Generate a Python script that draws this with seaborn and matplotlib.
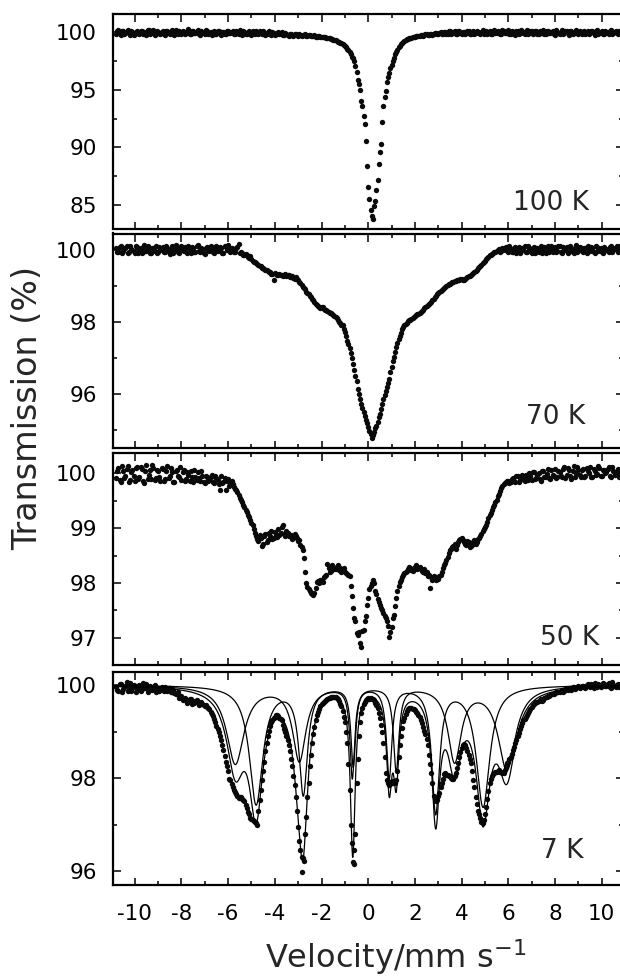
import numpy as np
import pandas as pd
import matplotlib
matplotlib.use("Agg")
import matplotlib.pyplot as plt
import seaborn as sns
from matplotlib.ticker import MultipleLocator, FormatStrFormatter

# Velocity channels (mm/s): main channels and the interleaved half-step channels
VELOCITY = [
    -10.8, -10.7, -10.6, -10.5, -10.4, -10.3, -10.2, -10.1, -10.0, -9.9,
    -9.8, -9.7, -9.6, -9.5, -9.4, -9.3, -9.2, -9.1, -9.0, -8.9,
    -8.8, -8.7, -8.6, -8.5, -8.4, -8.3, -8.2, -8.1, -8.0, -7.9,
    -7.8, -7.7, -7.6, -7.5, -7.4, -7.3, -7.2, -7.1, -7.0, -6.9,
    -6.8, -6.7, -6.6, -6.5, -6.4, -6.3, -6.2, -6.1, -6.0, -5.9,
    -5.8, -5.7, -5.6, -5.5, -5.4, -5.3, -5.2, -5.1, -5.0, -4.9,
    -4.8, -4.7, -4.6, -4.5, -4.4, -4.3, -4.2, -4.1, -4.0, -3.9,
    -3.8, -3.7, -3.6, -3.5, -3.4, -3.3, -3.2, -3.1, -3.0, -2.9,
    -2.8, -2.7, -2.6, -2.5, -2.4, -2.3, -2.2, -2.1, -2.0, -1.9,
    -1.8, -1.7, -1.6, -1.5, -1.4, -1.3, -1.2, -1.1, -1.0, -0.9,
    -0.8, -0.7, -0.6, -0.5, -0.4, -0.3, -0.2, -0.1, 0.0, 0.1,
    0.2, 0.3, 0.4, 0.5, 0.6, 0.7, 0.8, 0.9, 1.0, 1.1,
    1.2, 1.3, 1.4, 1.5, 1.6, 1.7, 1.8, 1.9, 2.0, 2.1,
    2.2, 2.3, 2.4, 2.5, 2.6, 2.7, 2.8, 2.9, 3.0, 3.1,
    3.2, 3.3, 3.4, 3.5, 3.6, 3.7, 3.8, 3.9, 4.0, 4.1,
    4.2, 4.3, 4.4, 4.5, 4.6, 4.7, 4.8, 4.9, 5.0, 5.1,
    5.2, 5.3, 5.4, 5.5, 5.6, 5.7, 5.8, 5.9, 6.0, 6.1,
    6.2, 6.3, 6.4, 6.5, 6.6, 6.7, 6.8, 6.9, 7.0, 7.1,
    7.2, 7.3, 7.4, 7.5, 7.6, 7.7, 7.8, 7.9, 8.0, 8.1,
    8.2, 8.3, 8.4, 8.5, 8.6, 8.7, 8.8, 8.9, 9.0, 9.1,
    9.2, 9.3, 9.4, 9.5, 9.6, 9.7, 9.8, 9.9, 10.0, 10.1,
    10.2, 10.3, 10.4, 10.5, 10.6, 10.7, 10.8,
]
VELOCITY_MID = [
    -10.75, -10.65, -10.55, -10.45, -10.35, -10.25, -10.15, -10.05, -9.95, -9.85,
    -9.75, -9.65, -9.55, -9.45, -9.35, -9.25, -9.15, -9.05, -8.95, -8.85,
    -8.75, -8.65, -8.55, -8.45, -8.35, -8.25, -8.15, -8.05, -7.95, -7.85,
    -7.75, -7.65, -7.55, -7.45, -7.35, -7.25, -7.15, -7.05, -6.95, -6.85,
    -6.75, -6.65, -6.55, -6.45, -6.35, -6.25, -6.15, -6.05, -5.95, -5.85,
    -5.75, -5.65, -5.55, -5.45, -5.35, -5.25, -5.15, -5.05, -4.95, -4.85,
    -4.75, -4.65, -4.55, -4.45, -4.35, -4.25, -4.15, -4.05, -3.95, -3.85,
    -3.75, -3.65, -3.55, -3.45, -3.35, -3.25, -3.15, -3.05, -2.95, -2.85,
    -2.75, -2.65, -2.55, -2.45, -2.35, -2.25, -2.15, -2.05, -1.95, -1.85,
    -1.75, -1.65, -1.55, -1.45, -1.35, -1.25, -1.15, -1.05, -0.95, -0.85,
    -0.75, -0.65, -0.55, -0.45, -0.35, -0.25, -0.15, -0.05, 0.05, 0.15,
    0.25, 0.35, 0.45, 0.55, 0.65, 0.75, 0.85, 0.95, 1.05, 1.15,
    1.25, 1.35, 1.45, 1.55, 1.65, 1.75, 1.85, 1.95, 2.05, 2.15,
    2.25, 2.35, 2.45, 2.55, 2.65, 2.75, 2.85, 2.95, 3.05, 3.15,
    3.25, 3.35, 3.45, 3.55, 3.65, 3.75, 3.85, 3.95, 4.05, 4.15,
    4.25, 4.35, 4.45, 4.55, 4.65, 4.75, 4.85, 4.95, 5.05, 5.15,
    5.25, 5.35, 5.45, 5.55, 5.65, 5.75, 5.85, 5.95, 6.05, 6.15,
    6.25, 6.35, 6.45, 6.55, 6.65, 6.75, 6.85, 6.95, 7.05, 7.15,
    7.25, 7.35, 7.45, 7.55, 7.65, 7.75, 7.85, 7.95, 8.05, 8.15,
    8.25, 8.35, 8.45, 8.55, 8.65, 8.75, 8.85, 8.95, 9.05, 9.15,
    9.25, 9.35, 9.45, 9.55, 9.65, 9.75, 9.85, 9.95, 10.05, 10.15,
    10.25, 10.35, 10.45, 10.55, 10.65, 10.75,
]

# Transmission (%) at 100 K
T_100K = [
    99.85, 100.2, 99.8, 100.1, 99.92, 100.22, 99.78, 100.05, 99.9, 100.15,
    99.82, 100.12, 100.0, 99.78, 100.18, 99.95, 100.24, 99.85, 100.03, 99.9,
    100.14, 99.8, 100.08, 99.9, 100.2, 99.76, 100.0, 100.16, 99.88, 100.06,
    99.92, 100.26, 99.82, 100.1, 99.95, 100.18, 99.79, 100.05, 99.87, 100.13,
    99.98, 99.8, 100.12, 99.9, 100.16, 99.78, 100.02, 99.85, 100.09, 99.93,
    100.14, 99.83, 99.97, 100.18, 99.8, 100.06, 99.88, 100.11, 99.77, 99.96,
    100.08, 99.85, 99.93, 100.15, 99.79, 99.98, 99.84, 100.05, 99.75, 99.9,
    99.82, 100.0, 99.74, 99.88, 99.72, 99.86, 99.7, 99.82, 99.66, 99.78,
    99.75, 99.82, 99.7, 99.78, 99.65, 99.74, 99.62, 99.7, 99.6, 99.64,
    99.55, 99.5, 99.44, 99.38, 99.3, 99.2, 99.1, 98.98, 98.8, 98.6,
    98.3, 97.9, 97.55, 96.6, 95.5, 94.0, 92.7, 90.6, 86.6, 84.6,
    83.8, 85.3, 87.2, 89.6, 92.2, 94.4, 95.7, 96.5, 97.2, 97.8,
    98.3, 98.7, 99.0, 99.2, 99.35, 99.45, 99.5, 99.58, 99.62, 99.68,
    99.72, 99.8, 99.74, 99.86, 99.78, 99.9, 99.82, 99.95, 99.86, 100.0,
    99.88, 100.05, 99.9, 100.08, 99.92, 100.1, 99.9, 100.14, 99.86, 100.04,
    99.94, 100.12, 99.84, 100.16, 99.96, 100.06, 99.88, 100.2, 99.98, 99.85,
    100.1, 99.9, 100.22, 99.93, 100.04, 99.82, 100.13, 99.95, 100.18, 99.87,
    100.06, 99.8, 100.15, 99.97, 100.1, 99.85, 100.25, 99.91, 100.08, 99.95,
    100.15, 99.83, 100.03, 100.2, 99.88, 100.08, 99.93, 100.13, 99.8, 100.05,
    99.9, 100.18, 99.97, 100.09, 99.78, 100.14, 99.95, 100.22, 99.86, 100.04,
    100.0, 99.88, 100.16, 99.92, 100.08, 99.8, 100.2, 99.97, 100.1, 99.9,
    100.05, 99.85, 100.18, 99.95, 100.08, 99.88, 100.12,
]
T_100K_MID = [
    100.08, 99.9, 100.16, 99.84, 100.04, 99.95, 100.12, 99.8, 100.06, 99.92,
    100.1, 99.86, 99.96, 100.2, 99.88, 100.07, 99.8, 100.14, 99.93, 100.02,
    99.86, 100.12, 99.94, 100.05, 99.82, 100.18, 99.9, 99.98, 100.1, 99.84,
    100.06, 99.88, 100.16, 99.93, 100.02, 99.85, 100.12, 99.96, 100.2, 99.9,
    100.05, 99.92, 99.86, 100.14, 99.95, 100.03, 99.83, 100.1, 99.97, 100.06,
    99.9, 100.12, 99.85, 99.98, 100.1, 99.84, 100.02, 99.92, 100.14, 99.87,
    99.95, 100.1, 99.82, 100.02, 99.9, 100.08, 99.8, 99.96, 99.88, 100.0,
    99.86, 99.78, 99.92, 99.8, 99.9, 99.76, 99.88, 99.74, 99.84, 99.72,
    99.8, 99.7, 99.76, 99.66, 99.72, 99.64, 99.68, 99.58, 99.62, 99.56,
    99.52, 99.48, 99.4, 99.34, 99.25, 99.15, 99.05, 98.9, 98.7, 98.45,
    98.1, 97.75, 97.1, 95.9, 95.0, 93.6, 92.0, 88.4, 85.5, 84.0,
    84.9, 86.3, 88.6, 90.3, 93.6, 94.9, 96.1, 96.9, 97.5, 98.1,
    98.5, 98.85, 99.1, 99.28, 99.4, 99.48, 99.55, 99.6, 99.66, 99.7,
    99.76, 99.7, 99.82, 99.75, 99.88, 99.8, 99.92, 99.84, 99.96, 99.88,
    100.02, 99.86, 100.1, 99.9, 100.04, 99.85, 100.12, 99.93, 100.06, 99.88,
    100.1, 99.9, 100.03, 99.82, 100.14, 99.95, 100.06, 99.86, 100.16, 99.92,
    99.88, 100.14, 99.97, 100.08, 99.84, 100.18, 99.92, 100.04, 99.86, 100.1,
    99.92, 100.08, 99.86, 100.2, 99.94, 100.02, 99.82, 100.12, 99.9, 100.16,
    99.9, 100.1, 99.96, 99.85, 100.14, 99.92, 100.05, 99.86, 100.18, 99.95,
    100.06, 99.86, 100.12, 99.92, 100.16, 99.88, 100.04, 99.93, 100.1, 99.84,
    100.1, 99.94, 99.84, 100.12, 99.96, 100.14, 99.9, 100.06, 99.85, 100.15,
    99.92, 100.1, 99.88, 100.04, 99.96, 100.14,
]

# Transmission (%) at 70 K
T_70K = [
    100.06, 99.93, 100.1, 99.97, 100.04, 99.9, 100.09, 100.0, 99.92, 100.07,
    100.02, 99.91, 100.12, 99.96, 100.06, 99.9, 100.04, 100.11, 99.94, 100.0,
    100.08, 99.93, 100.03, 99.89, 100.1, 99.98, 100.06, 99.92, 100.11, 99.96,
    100.04, 100.1, 99.92, 100.06, 99.95, 100.12, 99.94, 100.02, 99.89, 100.08,
    99.96, 100.06, 99.9, 100.1, 99.98, 100.04, 99.92, 100.07, 100.13, 99.95,
    100.03, 99.95, 100.08, 99.9, 99.9, 99.84, 99.86, 99.78, 99.74, 99.66,
    99.64, 99.58, 99.54, 99.48, 99.44, 99.41, 99.37, 99.34, 99.36, 99.3,
    99.33, 99.29, 99.31, 99.27, 99.3, 99.26, 99.22, 99.24, 99.15, 99.07,
    98.97, 98.9, 98.8, 98.73, 98.64, 98.55, 98.47, 98.42, 98.4, 98.36,
    98.33, 98.28, 98.25, 98.2, 98.13, 98.06, 97.96, 97.9, 97.72, 97.48,
    97.28, 97.0, 96.65, 96.35, 96.0, 95.72, 95.5, 95.28, 95.08, 94.9,
    94.85, 95.05, 95.23, 95.45, 95.72, 95.97, 96.2, 96.42, 96.75, 97.02,
    97.3, 97.52, 97.7, 97.86, 97.95, 98.02, 98.05, 98.1, 98.16, 98.21,
    98.25, 98.3, 98.38, 98.43, 98.5, 98.56, 98.63, 98.72, 98.8, 98.85,
    98.9, 98.96, 99.02, 99.06, 99.1, 99.12, 99.15, 99.17, 99.2, 99.16,
    99.22, 99.26, 99.3, 99.35, 99.42, 99.48, 99.55, 99.62, 99.7, 99.78,
    99.84, 99.88, 99.93, 99.97, 100.02, 99.96, 100.05, 100.08, 99.95, 100.03,
    99.94, 100.07, 100.0, 99.91, 100.05, 100.1, 99.95, 100.04, 99.9, 100.08,
    100.02, 99.93, 100.09, 100.0, 99.92, 100.11, 100.03, 99.95, 100.07, 99.97,
    100.1, 99.92, 100.04, 100.08, 99.95, 100.05, 99.9, 100.12, 100.0, 100.06,
    99.94, 100.05, 100.1, 99.96, 100.04, 99.91, 100.08, 100.02, 99.95, 100.07,
    100.03, 99.93, 100.09, 100.0, 100.05, 99.94, 100.1,
]
T_70K_MID = [
    99.95, 100.08, 99.9, 100.04, 100.11, 99.93, 100.02, 99.96, 100.09, 99.91,
    100.05, 99.94, 100.03, 100.1, 99.92, 100.06, 99.97, 99.9, 100.08, 100.02,
    99.94, 100.09, 99.96, 100.05, 99.91, 100.12, 99.95, 100.04, 99.98, 100.07,
    99.92, 100.02, 100.08, 99.95, 100.1, 99.97, 100.05, 99.9, 100.06, 99.98,
    100.09, 99.93, 100.04, 99.96, 100.07, 99.91, 100.1, 99.98, 100.04, 100.06,
    99.93, 100.06, 100.17, 99.95, 99.86, 99.88, 99.8, 99.82, 99.7, 99.67,
    99.6, 99.55, 99.5, 99.46, 99.43, 99.38, 99.34, 99.15, 99.33, 99.31,
    99.3, 99.26, 99.32, 99.29, 99.24, 99.28, 99.2, 99.18, 99.1, 99.02,
    98.93, 98.82, 98.77, 98.68, 98.6, 98.5, 98.44, 98.38, 98.41, 98.32,
    98.3, 98.24, 98.22, 98.16, 98.1, 98.0, 97.92, 97.8, 97.6, 97.38,
    97.14, 96.82, 96.5, 96.15, 95.85, 95.6, 95.38, 95.18, 94.97, 94.78,
    94.95, 95.12, 95.35, 95.58, 95.85, 96.08, 96.3, 96.6, 96.9, 97.15,
    97.42, 97.62, 97.8, 97.9, 97.98, 98.06, 98.08, 98.12, 98.2, 98.22,
    98.28, 98.34, 98.4, 98.48, 98.52, 98.6, 98.68, 98.76, 98.82, 98.88,
    98.93, 98.99, 99.04, 99.08, 99.11, 99.14, 99.16, 99.18, 99.15, 99.2,
    99.24, 99.28, 99.32, 99.38, 99.45, 99.51, 99.58, 99.66, 99.74, 99.81,
    99.86, 99.9, 99.95, 100.0, 99.93, 100.06, 99.98, 100.02, 100.09, 99.94,
    100.04, 99.92, 100.08, 99.97, 100.02, 99.93, 100.1, 99.96, 100.05, 99.92,
    100.06, 99.98, 99.92, 100.07, 100.04, 99.95, 100.09, 100.0, 99.93, 100.1,
    99.95, 100.07, 100.0, 99.92, 100.1, 99.97, 100.04, 99.94, 100.08, 99.96,
    100.06, 99.92, 100.02, 100.08, 99.95, 100.11, 99.97, 100.04, 99.9, 100.02,
    99.96, 100.08, 99.94, 100.04, 100.1, 99.98,
]

# Transmission (%) at 50 K
T_50K = [
    99.92, 100.1, 99.84, 100.04, 99.95, 100.14, 99.88, 100.06, 99.86, 100.12,
    99.94, 100.08, 99.83, 100.15, 99.97, 99.9, 100.1, 99.92, 100.05, 99.87,
    100.09, 99.9, 100.13, 99.95, 100.03, 99.85, 100.06, 99.93, 99.89, 100.07,
    99.9, 99.97, 100.05, 99.84, 99.94, 100.03, 99.87, 99.96, 99.82, 99.93,
    99.88, 99.97, 99.83, 99.92, 99.8, 99.95, 99.85, 99.7, 99.9, 99.82,
    99.8, 99.72, 99.66, 99.55, 99.48, 99.38, 99.3, 99.21, 99.1, 98.98,
    98.85, 98.76, 98.82, 98.72, 98.9, 98.78, 98.86, 98.8, 98.93, 98.84,
    98.88, 99.02, 98.9, 98.95, 98.85, 98.88, 98.82, 98.86, 98.76, 98.7,
    98.6, 98.2, 97.92, 97.85, 97.8, 97.82, 98.02, 98.0, 98.05, 98.1,
    98.15, 98.28, 98.22, 98.3, 98.25, 98.33, 98.27, 98.22, 98.2, 98.16,
    98.12, 97.76, 97.35, 97.08, 97.11, 96.82, 97.14, 97.4, 97.72, 97.95,
    98.05, 97.86, 97.7, 97.6, 97.5, 97.4, 97.3, 97.02, 97.2, 97.42,
    97.72, 97.95, 98.05, 98.15, 98.2, 98.25, 98.28, 98.22, 98.3, 98.26,
    98.3, 98.22, 98.25, 98.2, 98.15, 98.1, 98.12, 98.05, 98.08, 98.15,
    98.28, 98.36, 98.48, 98.6, 98.65, 98.72, 98.7, 98.78, 98.82, 98.75,
    98.7, 98.74, 98.68, 98.75, 98.72, 98.8, 98.85, 98.95, 99.02, 99.12,
    99.24, 99.33, 99.42, 99.52, 99.62, 99.74, 99.8, 99.84, 99.86, 99.84,
    99.92, 99.84, 99.96, 99.88, 99.98, 99.86, 99.93, 100.0, 99.89, 100.03,
    99.92, 100.0, 99.87, 100.05, 99.94, 100.08, 99.9, 99.98, 100.09, 99.93,
    100.03, 99.93, 100.11, 99.97, 100.06, 99.9, 100.13, 100.0, 100.07, 99.94,
    100.08, 99.96, 100.04, 100.12, 99.93, 100.05, 99.99, 100.1, 99.95, 100.06,
    100.02, 100.11, 99.94, 100.05, 99.99, 100.08, 99.97,
]
T_50K_MID = [
    100.05, 99.88, 100.13, 99.92, 100.08, 99.85, 100.02, 99.95, 100.1, 99.9,
    100.12, 99.86, 100.04, 99.9, 100.07, 100.15, 99.88, 100.06, 99.93, 100.1,
    99.87, 100.04, 99.92, 100.1, 99.84, 100.05, 99.95, 100.12, 100.02, 99.86,
    100.03, 99.86, 99.94, 100.06, 99.88, 99.92, 100.04, 99.84, 99.95, 99.87,
    99.93, 99.85, 99.96, 99.88, 99.7, 99.83, 99.92, 99.86, 99.78, 99.87,
    99.76, 99.7, 99.6, 99.52, 99.43, 99.34, 99.25, 99.15, 99.05, 98.92,
    98.8, 98.88, 98.68, 98.85, 98.75, 98.92, 98.95, 98.82, 98.88, 98.98,
    98.92, 99.05, 98.86, 98.92, 98.85, 98.8, 98.9, 98.82, 98.78, 98.66,
    98.45, 98.0, 97.88, 97.82, 97.78, 97.9, 98.04, 98.06, 98.02, 98.12,
    98.34, 98.2, 98.32, 98.26, 98.3, 98.24, 98.2, 98.28, 98.18, 98.14,
    97.95, 97.55, 97.3, 97.05, 96.9, 97.12, 97.3, 97.6, 97.88, 98.0,
    98.0, 97.8, 97.65, 97.55, 97.45, 97.35, 97.22, 97.1, 97.35, 97.58,
    97.86, 98.02, 98.1, 98.18, 98.22, 98.3, 98.24, 98.27, 98.32, 98.28,
    98.25, 98.2, 98.18, 98.12, 97.9, 98.06, 98.1, 98.08, 98.12, 98.2,
    98.32, 98.42, 98.55, 98.62, 98.68, 98.62, 98.75, 98.8, 98.78, 98.72,
    98.76, 98.65, 98.7, 98.78, 98.74, 98.82, 98.9, 98.98, 99.06, 99.18,
    99.28, 99.38, 99.48, 99.58, 99.68, 99.78, 99.82, 99.86, 99.83, 99.9,
    99.86, 99.95, 99.84, 99.93, 99.9, 99.97, 99.88, 99.95, 100.02, 99.9,
    99.98, 99.9, 100.04, 99.93, 99.99, 99.92, 100.06, 99.96, 99.91, 100.05,
    99.95, 100.08, 99.92, 100.1, 99.96, 100.05, 99.94, 100.12, 99.98, 100.06,
    99.94, 100.1, 100.0, 99.93, 100.08, 99.97, 100.13, 99.95, 100.06, 100.0,
    100.08, 99.95, 100.12, 99.97, 100.04, 99.93,
]

# Transmission (%) at 7 K
T_7K = [
    99.95, 99.88, 100.03, 99.92, 99.98, 99.87, 100.05, 99.93, 99.97, 99.9,
    99.99, 99.91, 99.95, 100.02, 99.89, 99.96, 99.93, 99.86, 99.94, 99.9,
    99.92, 99.95, 99.88, 99.93, 99.86, 99.83, 99.8, 99.72, 99.76, 99.7,
    99.68, 99.65, 99.7, 99.62, 99.66, 99.63, 99.6, 99.6, 99.55, 99.52,
    99.48, 99.38, 99.28, 99.12, 98.98, 98.82, 98.6, 98.35, 98.15, 97.95,
    97.8, 97.7, 97.62, 97.6, 97.55, 97.5, 97.35, 97.22, 97.12, 97.08,
    97.03, 97.3, 97.74, 98.15, 98.58, 98.9, 99.12, 99.25, 99.32, 99.35,
    99.3, 99.24, 99.06, 98.9, 98.72, 98.42, 98.05, 97.6, 96.95, 96.45,
    96.28, 96.8, 97.6, 98.25, 98.75, 99.1, 99.35, 99.48, 99.6, 99.64,
    99.68, 99.72, 99.74, 99.75, 99.74, 99.7, 99.6, 99.45, 99.2, 98.75,
    97.75, 96.6, 96.45, 97.9, 98.9, 99.4, 99.6, 99.68, 99.72, 99.72,
    99.7, 99.62, 99.5, 99.3, 99.0, 98.45, 97.95, 97.85, 97.93, 97.92,
    97.95, 98.45, 98.9, 99.22, 99.38, 99.48, 99.5, 99.49, 99.46, 99.4,
    99.32, 99.18, 99.02, 98.85, 98.5, 98.1, 97.62, 97.5, 97.62, 97.8,
    97.98, 98.1, 98.06, 98.04, 97.98, 98.05, 98.22, 98.45, 98.65, 98.74,
    98.64, 98.5, 98.32, 97.95, 97.6, 97.3, 97.15, 97.04, 97.22, 97.55,
    97.9, 98.05, 98.1, 98.14, 98.17, 98.12, 98.1, 98.25, 98.35, 98.46,
    98.6, 98.75, 98.9, 99.05, 99.18, 99.28, 99.36, 99.45, 99.52, 99.6,
    99.63, 99.66, 99.7, 99.68, 99.74, 99.76, 99.78, 99.8, 99.82, 99.85,
    99.86, 99.9, 99.88, 99.92, 99.94, 99.9, 99.96, 99.93, 99.97, 99.95,
    99.98, 99.93, 100.02, 99.96, 99.99, 100.04, 99.95, 100.0, 99.97, 100.03,
    99.98, 100.05, 99.94, 100.01, 99.96, 100.03, 99.99,
]
T_7K_MID = [
    99.9, 100.02, 99.86, 99.96, 100.06, 99.91, 99.88, 100.0, 99.85, 99.96,
    99.87, 100.04, 99.93, 99.86, 99.98, 99.9, 100.01, 99.92, 99.87, 99.95,
    99.88, 99.9, 99.94, 99.84, 99.9, 99.8, 99.84, 99.76, 99.68, 99.72,
    99.62, 99.7, 99.6, 99.62, 99.68, 99.58, 99.64, 99.56, 99.58, 99.5,
    99.43, 99.33, 99.2, 99.05, 98.9, 98.72, 98.48, 98.25, 97.98, 97.88,
    97.74, 97.66, 97.58, 97.6, 97.52, 97.42, 97.28, 97.15, 97.1, 97.06,
    97.0, 97.52, 97.95, 98.35, 98.75, 99.02, 99.2, 99.3, 99.36, 99.33,
    99.28, 99.15, 99.0, 98.82, 98.58, 98.25, 97.85, 97.3, 96.65, 96.3,
    96.22, 97.17, 97.89, 98.5, 98.95, 99.25, 99.42, 99.55, 99.62, 99.66,
    99.71, 99.73, 99.75, 99.75, 99.72, 99.66, 99.55, 99.32, 99.0, 98.3,
    97.0, 96.2, 96.8, 98.4, 99.2, 99.5, 99.64, 99.7, 99.71, 99.7,
    99.68, 99.56, 99.4, 99.15, 98.75, 98.1, 97.9, 97.88, 97.9, 97.89,
    98.15, 98.7, 99.08, 99.3, 99.44, 99.5, 99.5, 99.48, 99.43, 99.36,
    99.25, 99.1, 98.95, 98.7, 98.3, 97.9, 97.55, 97.52, 97.67, 97.89,
    98.08, 98.06, 98.05, 98.0, 97.99, 98.1, 98.32, 98.55, 98.7, 98.72,
    98.58, 98.4, 98.15, 97.8, 97.45, 97.22, 97.05, 97.1, 97.38, 97.72,
    97.98, 98.08, 98.12, 98.16, 98.14, 98.1, 98.18, 98.32, 98.4, 98.52,
    98.67, 98.82, 98.96, 99.12, 99.24, 99.32, 99.4, 99.48, 99.56, 99.61,
    99.64, 99.68, 99.66, 99.72, 99.75, 99.77, 99.8, 99.81, 99.84, 99.86,
    99.88, 99.86, 99.92, 99.9, 99.93, 99.95, 99.91, 99.96, 99.94, 99.98,
    99.95, 100.0, 99.97, 100.03, 99.94, 99.98, 100.02, 99.96, 100.05, 99.97,
    100.02, 99.95, 100.06, 99.97, 100.01, 99.96,
]
V_7K_EXTRA = [-2.82, -0.62]
T_7K_EXTRA = [95.99, 96.15]

# Fitted sextet sub-spectra at 7 K: line positions (mm/s), depths (%), half-widths (mm/s)
SEXTET_A_POS = [-5.69, -2.95, -0.68, 1.20, 3.70, 5.94]
SEXTET_A_DEPTH = [1.68, 1.6, 1.95, 1.8, 1.6, 1.8]
SEXTET_A_HWHM = [0.45, 0.34, 0.12, 0.14, 0.34, 0.45]
SEXTET_B_POS = [-4.80, -2.78, -0.64, 0.90, 2.89, 4.92]
SEXTET_B_DEPTH = [2.55, 2.3, 1.7, 1.95, 2.7, 2.6]
SEXTET_B_HWHM = [0.35, 0.22, 0.12, 0.14, 0.2, 0.35]

PANEL_LABELS = ["100 K", "70 K", "50 K", "7 K"]


def sextet_absorption(v, pos, depth, hwhm):
    v = np.asarray(v)[:, None]
    pos, depth, hwhm = (np.asarray(a) for a in (pos, depth, hwhm))
    return (depth * hwhm ** 2 / ((v - pos) ** 2 + hwhm ** 2)).sum(axis=1)


sns.set_theme(style="ticks")
plt.rcParams.update({
    "font.family": ["DejaVu Sans"],
    "axes.unicode_minus": False,
    "axes.linewidth": 1.6,
    "axes.edgecolor": "black",
    "xtick.color": "black",
    "ytick.color": "black",
})

FIG_W, FIG_H = 620, 976
fig = plt.figure(figsize=(FIG_W / 100, FIG_H / 100), dpi=100)
fig.patch.set_facecolor("white")

X_LEFT, X_WIDTH = 113, 510.4
XLIM = (-10.93, 10.93)

panels = [
    dict(t=T_100K, tm=T_100K_MID, ve=[], te=[], span=(14, 228.5),
         ylim=(82.95, 101.6), major=5, minor=2.5, lab=(0.933, 0.086)),
    dict(t=T_70K, tm=T_70K_MID, ve=[], te=[], span=(233.5, 448),
         ylim=(94.5, 100.45), major=2, minor=1, lab=(0.925, 0.112)),
    dict(t=T_50K, tm=T_50K_MID, ve=[], te=[], span=(452.7, 665),
         ylim=(96.5, 100.38), major=1, minor=0.5, lab=(0.953, 0.094)),
    dict(t=T_7K, tm=T_7K_MID, ve=V_7K_EXTRA, te=T_7K_EXTRA, span=(672, 885),
         ylim=(95.7, 100.28), major=2, minor=1, lab=(0.922, 0.127)),
]

for i, p in enumerate(panels):
    top, bottom = p["span"]
    ax = fig.add_axes([X_LEFT / FIG_W, 1 - bottom / FIG_H,
                       X_WIDTH / FIG_W, (bottom - top) / FIG_H])
    df = pd.DataFrame({"velocity": VELOCITY + VELOCITY_MID + p["ve"],
                       "transmission": p["t"] + p["tm"] + p["te"]})
    sns.scatterplot(data=df, x="velocity", y="transmission", ax=ax,
                    s=15, color="#0a0a0a", linewidth=0, legend=False, zorder=3)

    if i == 3:
        v_fit = np.linspace(XLIM[0], XLIM[1], 2000)
        a = sextet_absorption(v_fit, SEXTET_A_POS, SEXTET_A_DEPTH, SEXTET_A_HWHM)
        b = sextet_absorption(v_fit, SEXTET_B_POS, SEXTET_B_DEPTH, SEXTET_B_HWHM)
        for curve in (100 - a, 100 - b, 100 - a - b):
            sns.lineplot(x=v_fit, y=curve, ax=ax, color="black", linewidth=0.9,
                         estimator=None, sort=False, zorder=4)

    ax.set_xlim(*XLIM)
    ax.set_ylim(*p["ylim"])
    ax.xaxis.set_major_locator(MultipleLocator(2))
    ax.xaxis.set_minor_locator(MultipleLocator(1))
    ax.yaxis.set_major_locator(MultipleLocator(p["major"]))
    ax.yaxis.set_minor_locator(MultipleLocator(p["minor"]))
    ax.yaxis.set_major_formatter(FormatStrFormatter("%g"))
    ax.xaxis.set_major_formatter(FormatStrFormatter("%g"))
    ax.tick_params(which="both", direction="in", top=True, right=True,
                   width=1.1, labelsize=15.5)
    ax.tick_params(which="major", length=5.4)
    ax.tick_params(which="minor", length=2.9)
    ax.tick_params(axis="y", pad=11.5)
    ax.tick_params(axis="x", pad=13.5)
    if i < 3:
        ax.tick_params(labelbottom=False)
    ax.set_xlabel("")
    ax.set_ylabel("")
    for s in ax.spines.values():
        s.set_linewidth(1.6)
    ax.text(p["lab"][0], p["lab"][1], PANEL_LABELS[i], transform=ax.transAxes,
            ha="right", va="baseline", fontsize=19)

fig.text(27.7 / FIG_W, 1 - 408 / FIG_H, "Transmission (%)", rotation=90,
         ha="center", va="center", fontsize=24)
fig.text(396 / FIG_W, 8 / FIG_H, "Velocity/mm s$^{-1}$", ha="center",
         va="baseline", fontsize=23)

fig.savefig("out.png", dpi=100)
